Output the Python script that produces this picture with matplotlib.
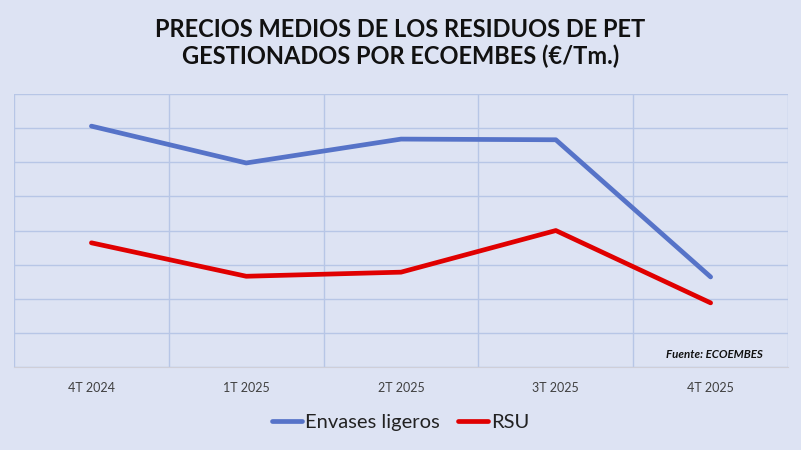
import matplotlib
matplotlib.use("Agg")
import matplotlib.pyplot as plt

# Datos (escala sin etiquetas, 0-400)
trimestres = ["4T 2024", "1T 2025", "2T 2025", "3T 2025", "4T 2025"]
envases_ligeros = [353, 299, 334, 333, 132]
rsu = [182, 133, 139, 200, 94]

plt.rcParams['font.family'] = ['Lato', 'DejaVu Sans']

fondo = "#DDE3F3"
fig = plt.figure(figsize=(8.01, 4.5), dpi=100, facecolor=fondo)
ax = fig.add_axes([0.0175, 0.1844, 0.9663, 0.6066])
ax.set_facecolor(fondo)

x = list(range(len(trimestres)))
ax.plot(x, envases_ligeros, color="#5673C8", lw=3.4, solid_capstyle="round",
        solid_joinstyle="round", label="Envases ligeros")
ax.plot(x, rsu, color="#E00000", lw=3.4, solid_capstyle="round",
        solid_joinstyle="round", label="RSU")

ax.set_xlim(-0.5, len(trimestres) - 0.5)
ax.set_ylim(0, 400)
ax.set_yticks(range(0, 401, 50))
ax.set_yticklabels([])
ax.set_xticks(x)
ax.set_xticklabels(trimestres, fontsize=9, color="#404040")
ax.set_xticks([i - 0.5 for i in range(len(trimestres) + 1)], minor=True)
ax.tick_params(axis="both", which="both", length=0)
ax.tick_params(axis="x", pad=11)
ax.grid(True, axis="y", color="#B7C6E6", lw=1)
ax.grid(True, axis="x", which="minor", color="#B7C6E6", lw=1)
ax.grid(False, axis="x", which="major")
for s in ax.spines.values():
    s.set_visible(False)
ax.spines["bottom"].set_visible(True)
ax.spines["bottom"].set_color("#CFCFD8")

ax.text(0.967, 0.025, "Fuente: ECOEMBES", transform=ax.transAxes, ha="right",
        va="bottom", fontsize=8.3, fontweight="bold", fontstyle="italic", color="#111111")

fig.text(0.5, 0.904, "PRECIOS MEDIOS DE LOS RESIDUOS DE PET\nGESTIONADOS POR ECOEMBES (€/Tm.)",
         ha="center", va="center", fontsize=17, fontweight="bold", color="#111111",
         linespacing=1.15)

fig.legend(loc="center", bbox_to_anchor=(0.5, 0.062), ncol=2, frameon=False,
           fontsize=14.5, handlelength=1.5, handletextpad=0.15, columnspacing=0.9,
           labelcolor="#222222")

fig.savefig("out.png", dpi=100, facecolor=fondo)
